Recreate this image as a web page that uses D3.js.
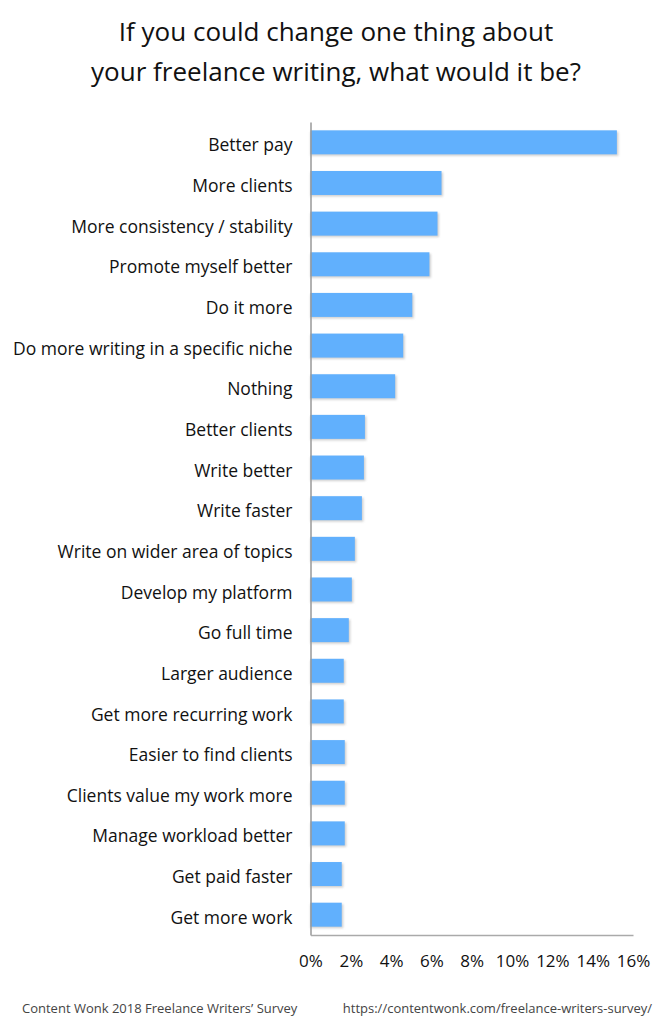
<!DOCTYPE html>
<html><head><meta charset="utf-8">
<script src="https://cdn.jsdelivr.net/npm/d3@7/dist/d3.min.js"></script>
<style>body{margin:0;background:#fff;} svg{display:block;}</style>
</head><body>
<svg id="chart" width="672" height="1024"></svg>
<script>
const categories = ["Better pay","More clients","More consistency / stability","Promote myself better","Do it more","Do more writing in a specific niche","Nothing","Better clients","Write better","Write faster","Write on wider area of topics","Develop my platform","Go full time","Larger audience","Get more recurring work","Easier to find clients","Clients value my work more","Manage workload better","Get paid faster","Get more work"];
const values = [15.2,6.5,6.3,5.9,5.05,4.6,4.2,2.7,2.65,2.55,2.2,2.05,1.9,1.65,1.65,1.7,1.7,1.7,1.55,1.55];
const ticks = [0,2,4,6,8,10,12,14,16];
const titleLines = ["If you could change one thing about","your freelance writing, what would it be?"];
const footerLeft = "Content Wonk 2018 Freelance Writers\u2019 Survey";
const footerRight = "https://contentwonk.com/freelance-writers-survey/";

const svg = d3.select("#chart");
const x = d3.scaleLinear().domain([0,16]).range([310.5,633]);
const y = d3.scaleBand().domain(categories).range([122,935]).paddingInner(0.41).paddingOuter(0.205);

svg.append("g").attr("font-family","'Open Sans',sans-serif").attr("font-size",26).attr("fill","#111")
  .selectAll("text").data(titleLines).join("text")
  .attr("x",336).attr("y",(d,i)=>41+i*40).attr("text-anchor","middle").text(d=>d);

// shadows
const defs = svg.append("defs");
defs.append("filter").attr("id","blur").append("feGaussianBlur").attr("stdDeviation",0.8);
svg.append("g").attr("filter","url(#blur)").selectAll("rect").data(values).join("rect")
  .attr("x",x(0)).attr("y",(d,i)=>y(categories[i])+1.5)
  .attr("width",d=>x(d)-x(0)+1.5).attr("height",y.bandwidth())
  .attr("fill","#cfcfcf");
svg.append("g").selectAll("rect").data(values).join("rect")
  .attr("x",x(0)).attr("y",(d,i)=>y(categories[i]))
  .attr("width",d=>x(d)-x(0)).attr("height",y.bandwidth())
  .attr("fill","#61b0fd");

const ya = svg.append("g").attr("transform",`translate(${x(0)},0)`).call(d3.axisLeft(y).tickSize(0).tickPadding(18));
ya.select(".domain").attr("stroke","#999").attr("stroke-width",1.5);
ya.selectAll("text").attr("font-family","'Open Sans',sans-serif").attr("font-size",17.5).attr("fill","#111").attr("dy","0.52em");

const xa = svg.append("g").attr("transform",`translate(0,935)`).call(d3.axisBottom(x).tickValues(ticks).tickSize(0).tickPadding(20).tickFormat(d=>d+"%"));
xa.select(".domain").attr("stroke","#aaa").attr("stroke-width",1.5);
xa.selectAll("text").attr("font-family","'Open Sans',sans-serif").attr("font-size",17).attr("fill","#111");

svg.append("text").attr("x",22).attr("y",1013).attr("font-family","'Open Sans',sans-serif").attr("font-size",13).attr("fill","#444").text(footerLeft);
svg.append("text").attr("x",652).attr("y",1013).attr("text-anchor","end").attr("font-family","'Open Sans',sans-serif").attr("font-size",13).attr("fill","#444").text(footerRight);
</script>
</body></html>
